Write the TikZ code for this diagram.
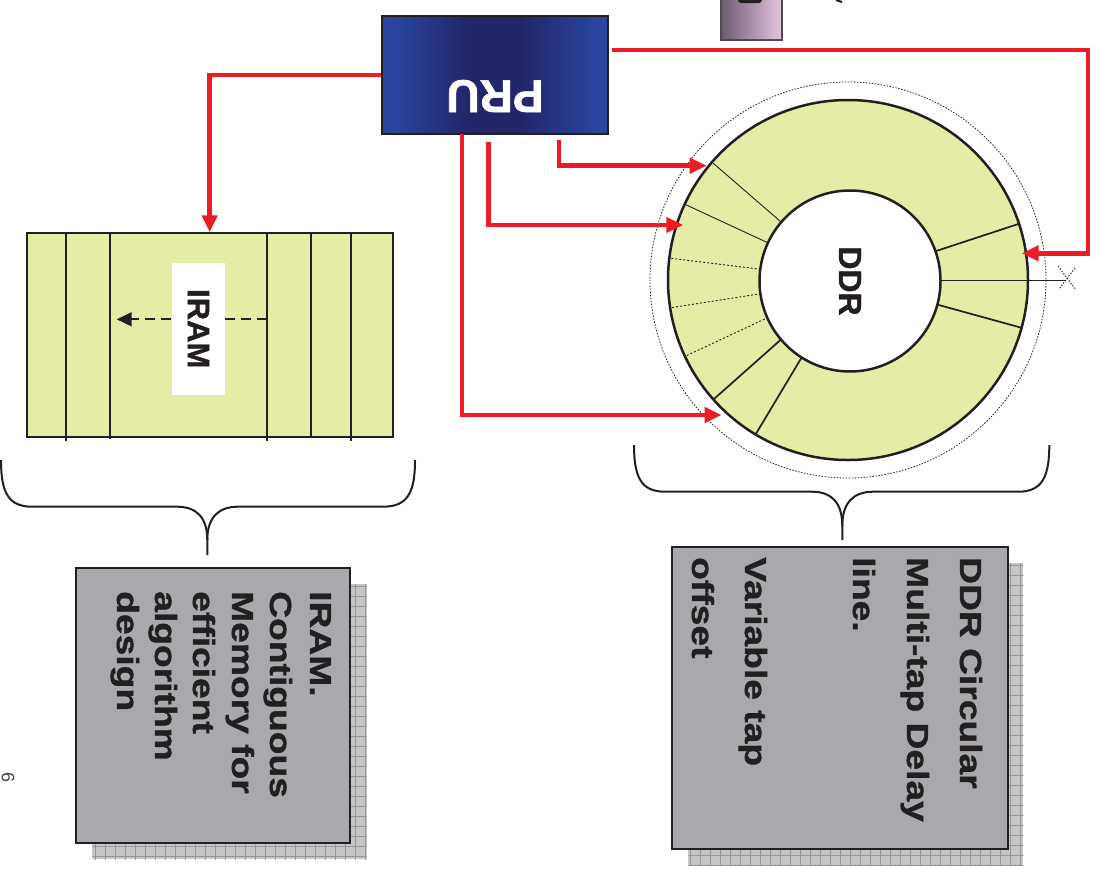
\documentclass[tikz,border=0pt]{standalone}
\usepackage{fontspec}
\setmainfont{Liberation Sans}
\newfontfamily\stretchfont[FakeStretch=1.22, BoldFeatures={FakeBold=1.2}]{Liberation Sans}
\newfontfamily\heavyfont[BoldFeatures={FakeBold=1.2}]{Liberation Sans}
\usetikzlibrary{arrows.meta,calc}
\definecolor{redc}{RGB}{237,28,36}
\definecolor{greenc}{RGB}{228,236,166}
\definecolor{grayc}{RGB}{167,169,172}
\definecolor{darkc}{RGB}{35,31,32}
\definecolor{shadowc}{RGB}{198,198,198}
\definecolor{gridc}{RGB}{150,150,150}
\definecolor{pruA}{RGB}{60,86,164}
\definecolor{pruB}{RGB}{40,68,155}
\definecolor{pruC}{RGB}{36,38,106}
\definecolor{purA}{RGB}{108,90,112}
\definecolor{purB}{RGB}{230,198,224}
\pgfdeclarehorizontalshading{pruShade}{100bp}{color(0bp)=(pruA); color(28bp)=(pruB); color(44bp)=(pruC); color(56bp)=(pruC); color(72bp)=(pruB); color(100bp)=(pruA)}
\tikzset{
  redarrow/.style={draw=redc, line width=4.5pt, -{Triangle[length=17pt,width=15pt]}},
  segthin/.style={draw=darkc, line width=0.9pt},
  segmed/.style={draw=darkc, line width=1.7pt},
  segdot/.style={draw=darkc, line width=0.9pt, dash pattern=on 2pt off 2pt},
  boxtxt/.style={rotate=-90, inner sep=0pt, text=darkc, font={\stretchfont\bfseries\fontsize{30.5}{36}\selectfont}},
  graybox/.style={fill=grayc, draw=darkc, line width=2.3pt, inner sep=0pt},
  bracestyle/.style={draw=darkc, line width=2pt},
  gridline/.style={draw=gridc, line width=0.6pt},
}
\begin{document}
\begin{tikzpicture}[x=1pt,y=-1pt]
\useasboundingbox (0,0) rectangle (1097,870);
\fill[white] (0,0) rectangle (1097,870);

% purple box at top (cut off)
\node[left color=purA, right color=purB, draw=darkc!80, line width=1.5pt, minimum width=61pt, minimum height=50pt, inner sep=0pt] (pur) at (751.5,15) {};
\fill[darkc, rounded corners=3pt] (738,-10) rectangle (762,3);
\draw[darkc, line width=2pt] (836,0) -- (842,2);

% PRU
\node[shading=pruShade, draw=darkc, line width=2pt, minimum width=226pt, minimum height=118pt, inner sep=0pt] (pru) at (495,75) {};
\node[rotate=180, text=white, inner sep=0pt, font={\heavyfont\bfseries\fontsize{46}{50}\selectfont}] (prulbl) at (495,96) {PRU};

% DDR ring
\draw[darkc, line width=0.8pt, dash pattern=on 1.5pt off 1.5pt] (848,280) circle[radius=198];
\node[circle, fill=greenc, draw=darkc, line width=2.5pt, minimum size=360pt, inner sep=0pt] (ring) at (848,280) {};
\foreach \a/\st in {220.9/segthin, 204.9/segthin, 187/segdot, 171.1/segdot, 154.9/segdot, 138.4/segmed, 120.9/segmed, -18.2/segmed, 15.4/segmed}
  \draw[\st] ($(ring.center)+(\a:88)$) -- ($(ring.center)+(\a:180)$);
\coordinate (xm) at (1067,278);
\draw[segthin] (940,280) -- (1065,280);
\draw[darkc, line width=0.9pt, dash pattern=on 1.5pt off 1.5pt] ($(xm)+(-9,-12)$) -- ($(xm)+(9,12)$);
\draw[darkc, line width=0.9pt, dash pattern=on 1.5pt off 1.5pt] ($(xm)+(8,-10)$) -- ($(xm)+(-8,11)$);
\node[circle, fill=white, draw=darkc, line width=2.5pt, minimum size=181pt, inner sep=0pt, rotate=-90, text=darkc, font={\heavyfont\bfseries\fontsize{32}{36}\selectfont}] (ddr) at (850,281) {DDR};

% IRAM block
\node[fill=greenc, draw=darkc, line width=2pt, minimum width=366pt, minimum height=203.4pt, inner sep=0pt] (iram) at (209.7,335) {};
\foreach \x/\t/\b in {66/233/441, 110.3/232/439, 266.7/233/441, 311/232/438, 350.7/233/441}
  \draw[darkc, line width=1.8pt] (\x,\t) -- (\x,\b);
\coordinate (da) at (266.7,319.3);
\coordinate (db) at (116.7,319.3);
\draw[darkc, line width=1.8pt, dash pattern=on 10pt off 6pt, -{Triangle[length=15pt,width=14pt]}] (da) -- (db);
\node[fill=white, rotate=-90, minimum width=132pt, minimum height=53pt, inner sep=0pt, text=darkc, font={\heavyfont\bfseries\fontsize{31}{34}\selectfont}] (iramlbl) at (198.5,328.7) {IRAM};

% red connectors
\coordinate (p2) at (612,50);
\coordinate (c2) at (1088,253.3);
\coordinate (t2) at (1021.7,253.3);
\coordinate (p3) at (559,140);
\coordinate (t3) at (706.7,165.7);
\coordinate (p4) at (488.7,142);
\coordinate (t4) at (683.3,225);
\coordinate (p5) at (462,134);
\coordinate (t5) at (721.7,415);
\draw[redarrow] (pru.west) -| (iram.north);
\draw[redarrow] (p2) -| (c2) -- (t2);
\draw[redarrow] (p3) |- (t3);
\draw[redarrow] (p4) |- (t4);
\draw[redarrow] (p5) |- (t5);

% braces
\draw[bracestyle] (1,460) .. controls (1,492) and (8,506.7) .. (32,506.7) -- (177,506.7) .. controls (197,506.7) and (207.3,518) .. (207.3,540) -- (207.3,555);
\draw[bracestyle] (415,460) .. controls (415,492) and (408,506.7) .. (383,506.7) -- (238,506.7) .. controls (218,506.7) and (207.3,518) .. (207.3,540);
\draw[bracestyle] (634,445) .. controls (634,477) and (641,491.7) .. (665,491.7) -- (811.7,491.7) .. controls (832,491.7) and (842.3,503) .. (842.3,526) -- (842.3,540);
\draw[bracestyle] (1049.3,445) .. controls (1049.3,477) and (1042,491.7) .. (1018.3,491.7) -- (873.3,491.7) .. controls (853,491.7) and (842.3,503) .. (842.3,526);

% DDR text box with shadow
\fill[shadowc] (688.3,563.3) rectangle (1023.3,865);
\begin{scope}
\clip (688.3,563.3) rectangle (1023.3,865);
\foreach \x in {690,700,...,1030} \draw[gridline] (\x,560) -- (\x,870);
\foreach \y in {565,575,...,865} \draw[gridline] (685,\y) -- (1030,\y);
\end{scope}
\node[graybox, minimum width=335.4pt, minimum height=302pt] (ddrbox) at (840,698.3) {};
\foreach \t/\bx [count=\i] in {DDR Circular/960, Multi-tap Delay/907, line./853, Variable tap/745, offset/692}
  \node[boxtxt, anchor=base west] (dl\i) at (\bx,557) {\t};

% IRAM text box with shadow
\fill[shadowc] (92.3,584) rectangle (366.7,859.3);
\begin{scope}
\clip (92.3,584) rectangle (366.7,859.3);
\foreach \x in {95,105,...,370} \draw[gridline] (\x,580) -- (\x,865);
\foreach \y in {586,596,...,860} \draw[gridline] (90,\y) -- (370,\y);
\end{scope}
\node[graybox, minimum width=274.3pt, minimum height=275pt] (irambox) at (212.85,705.8) {};
\foreach \t/\bx [count=\i] in {IRAM./310, Contiguous/270, Memory for/232, efficient/193, algorithm/155, design/117}
  \node[boxtxt, anchor=base west] (il\i) at (\bx,591) {\t};

% page number
\node[rotate=-90, inner sep=0pt, text=darkc!85, font={\fontsize{18}{20}\selectfont}] (pg) at (8,777) {6};
\end{tikzpicture}
\end{document}
